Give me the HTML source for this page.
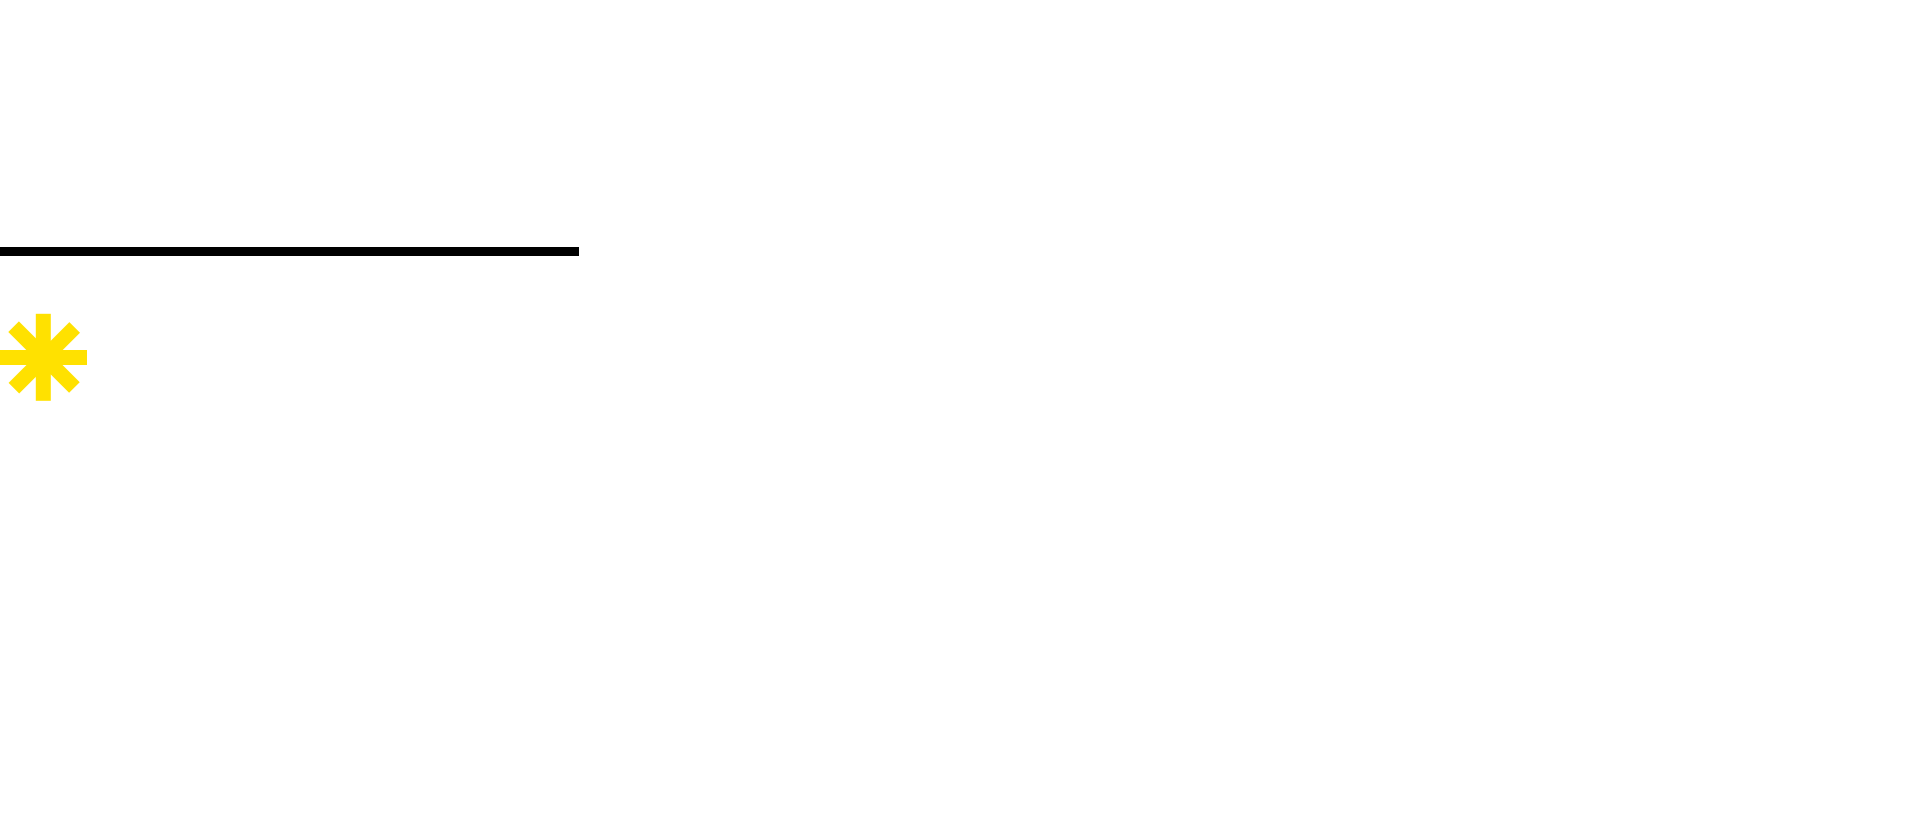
<!DOCTYPE html>
<html><head><style>
html,body{margin:0;padding:0;background:#fff;width:1920px;height:838px;overflow:hidden;position:relative}
.l{position:absolute;left:0;top:247px;width:579px;height:9px;background:#000}
.b{position:absolute;background:#FFE100;width:87px;height:14.6px;left:0;top:350.3px;transform-origin:43.5px 7.3px}
</style></head><body>
<div class="l"></div>
<div class="b"></div>
<div class="b" style="transform:rotate(90deg)"></div>
<div class="b" style="transform:rotate(45deg);width:86px;left:0.5px"></div>
<div class="b" style="transform:rotate(-45deg);width:86px;left:0.5px"></div>
</body></html>
